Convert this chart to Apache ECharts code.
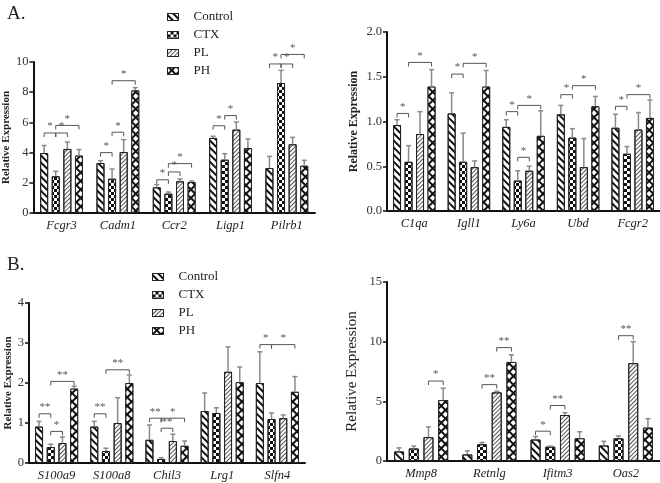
<!DOCTYPE html>
<html>
<head>
<meta charset="utf-8">
<script src="https://cdn.jsdelivr.net/npm/echarts@6/dist/echarts.min.js"></script>
<style>
  html, body { margin: 0; padding: 0; background: #fff; }
  #chart { width: 660px; height: 483px; }
</style>
</head>
<body>
<div id="chart"></div>
<script>
// groups (legend)
const groups = ['Control', 'CTX', 'PL', 'PH'];

// A. left panel
const catsA1 = ['Fcgr3', 'Cadm1', 'Ccr2', 'Ligp1', 'Pilrb1'];
const meanA1 = [
  [3.97, 3.31, 1.70, 4.97, 2.98],
  [2.43, 2.27, 1.28, 3.53, 8.61],
  [4.24, 4.04, 2.10, 5.52, 4.55],
  [3.80, 8.12, 2.05, 4.30, 3.13]
];
const sdA1 = [
  [0.50, 0.15, 0.18, 0.11, 0.77],
  [0.33, 0.64, 0.11, 0.40, 0.84],
  [0.46, 0.82, 0.15, 0.51, 0.46],
  [0.40, 0.18, 0.07, 0.60, 0.36]
];
// [category, from bar, to bar, height, stars]
const sigA1 = [
  [0, 0, 1, 5.3, 1], [0, 1, 2, 5.3, 1], [0, 1, 3, 5.8, 1],
  [1, 0, 1, 4.0, 1], [1, 1, 2, 5.35, 1], [1, 1, 3, 8.76, 1],
  [2, 0, 1, 2.2, 1], [2, 1, 2, 2.72, 1], [2, 1, 3, 3.27, 1],
  [3, 0, 1, 5.78, 1], [3, 1, 2, 6.45, 1],
  [4, 0, 1, 9.87, 1], [4, 1, 2, 9.87, 1], [4, 1, 3, 10.5, 1]
];

// A. right panel
const catsA2 = ['C1qa', 'Igll1', 'Ly6a', 'Ubd', 'Fcgr2'];
const meanA2 = [
  [0.96, 1.09, 0.94, 1.08, 0.93],
  [0.55, 0.55, 0.34, 0.82, 0.64],
  [0.86, 0.49, 0.45, 0.49, 0.91],
  [1.39, 1.39, 0.84, 1.17, 1.04]
];
const sdA2 = [
  [0.06, 0.23, 0.08, 0.10, 0.15],
  [0.18, 0.32, 0.11, 0.10, 0.08],
  [0.25, 0.07, 0.05, 0.32, 0.19],
  [0.19, 0.18, 0.28, 0.11, 0.20]
];
const sigA2 = [
  [0, 0, 1, 1.09, 1], [0, 1, 3, 1.66, 1],
  [1, 0, 1, 1.53, 1], [1, 1, 3, 1.65, 1],
  [2, 0, 1, 1.11, 1], [2, 1, 2, 0.60, 1], [2, 1, 3, 1.18, 1],
  [3, 0, 1, 1.30, 1], [3, 1, 3, 1.40, 1],
  [4, 0, 1, 1.17, 1], [4, 1, 3, 1.30, 1]
];

// B. left panel
const catsB1 = ['S100a9', 'S100a8', 'Chil3', 'Lrg1', 'Slfn4'];
const meanB1 = [
  [0.91, 0.91, 0.58, 1.30, 2.00],
  [0.40, 0.30, 0.10, 1.25, 1.10],
  [0.50, 1.00, 0.55, 2.28, 1.12],
  [1.86, 2.00, 0.43, 2.02, 1.78]
];
const sdB1 = [
  [0.13, 0.13, 0.37, 0.45, 0.78],
  [0.07, 0.07, 0.03, 0.13, 0.15],
  [0.15, 0.63, 0.17, 0.62, 0.08],
  [0.06, 0.20, 0.12, 0.38, 0.38]
];
const sigB1 = [
  [0, 0, 1, 1.23, 2], [0, 1, 2, 0.79, 1], [0, 1, 3, 2.04, 2],
  [1, 0, 1, 1.23, 2], [1, 1, 3, 2.33, 2],
  [2, 0, 1, 1.12, 2], [2, 1, 3, 1.12, 1], [2, 1, 2, 0.87, 2],
  [4, 0, 1, 2.96, 1], [4, 1, 3, 2.96, 1]
];

// B. right panel
const catsB2 = ['Mmp8', 'Retnlg', 'Ifitm3', 'Oas2'];
const meanB2 = [
  [0.80, 0.55, 1.80, 1.30],
  [1.05, 1.40, 1.20, 1.90],
  [2.00, 5.75, 3.85, 8.20],
  [5.10, 8.30, 1.90, 2.80]
];
const sdB2 = [
  [0.30, 0.30, 0.25, 0.35],
  [0.20, 0.15, 0.05, 0.20],
  [0.85, 0.10, 0.20, 1.80],
  [1.00, 0.60, 0.55, 0.75]
];
const sigB2 = [
  [0, 2, 3, 6.7, 1],
  [1, 1, 2, 6.4, 2], [1, 2, 3, 9.5, 2],
  [2, 0, 1, 2.5, 1], [2, 1, 2, 4.65, 2],
  [3, 1, 2, 10.5, 2]
];

const serif = "'Liberation Serif', 'Times New Roman', serif";

// fill patterns per group
const decals = [
  { symbol: 'rect', symbolSize: 1, color: '#111', dashArrayX: [1, 0], dashArrayY: [1.7, 2.7], rotation: Math.PI / 4 },
  { symbol: 'rect', symbolSize: 1, color: '#111', dashArrayX: [[3, 3], [0, 3, 3, 0]], dashArrayY: [3, 0] },
  { symbol: 'rect', symbolSize: 1, color: '#555', dashArrayX: [1, 0], dashArrayY: [0.8, 1.5], rotation: -Math.PI / 4 },
  { symbol: 'rect', symbolSize: 1, color: '#fff', backgroundColor: '#111', dashArrayX: [3.4, 1.4], dashArrayY: [3.4, 1.4], rotation: Math.PI / 4 }
];

const panels = [
  { cats: catsA1, mean: meanA1, sd: sdA1, sig: sigA1, max: 10, interval: 2, digits: 0,
    grid: { left: 33, top: 62, width: 282, height: 151 }, bw: 8, gap: 3.6,
    nameGap: 17, nameSize: 11, nameWeight: 'bold' },
  { cats: catsA2, mean: meanA2, sd: sdA2, sig: sigA2, max: 2, interval: 0.5, digits: 1,
    grid: { left: 387, top: 32, width: 275, height: 179 }, bw: 8, gap: 3.5,
    nameGap: 27, nameSize: 12, nameWeight: 'bold' },
  { cats: catsB1, mean: meanB1, sd: sdB1, sig: sigB1, max: 4, interval: 1, digits: 0,
    grid: { left: 29, top: 303, width: 276, height: 160 }, bw: 8, gap: 3.7,
    nameGap: 15, nameSize: 11, nameWeight: 'bold' },
  { cats: catsB2, mean: meanB2, sd: sdB2, sig: sigB2, max: 15, interval: 5, digits: 0,
    grid: { left: 387, top: 282, width: 276, height: 179 }, bw: 10, gap: 4.7,
    nameGap: 27, nameSize: 15, nameWeight: 'normal' }
];

function errRenderer(p) {
  const step = p.bw + p.gap;
  return function (params, api) {
    const c = api.value(0), g = api.value(1), m = api.value(2), s = api.value(3);
    const base = api.coord([c, m]);
    const top = api.coord([c, m + s]);
    const x = base[0] + (g - 1.5) * step;
    const st = { stroke: '#8a8a8a', lineWidth: 1.5 };
    return {
      type: 'group',
      children: [
        { type: 'line', shape: { x1: x, y1: base[1], x2: x, y2: top[1] }, style: st },
        { type: 'line', shape: { x1: x - 2.5, y1: top[1], x2: x + 2.5, y2: top[1] }, style: st }
      ]
    };
  };
}

function sigRenderer(p) {
  const step = p.bw + p.gap;
  return function (params, api) {
    const c = api.value(0), a = api.value(1), b = api.value(2), h = api.value(3), n = api.value(4);
    const pt = api.coord([c, h]);
    const x1 = pt[0] + (a - 1.5) * step, x2 = pt[0] + (b - 1.5) * step, y = pt[1];
    return {
      type: 'group',
      children: [
        { type: 'polyline', shape: { points: [[x1, y + 4], [x1, y], [x2, y], [x2, y + 4]] },
          style: { stroke: '#555', lineWidth: 1, fill: null } },
        { type: 'text', x: (x1 + x2) / 2, y: y - 1,
          style: { text: '*'.repeat(n), font: '11px ' + serif, fill: '#555', align: 'center', verticalAlign: 'bottom' } }
      ]
    };
  };
}

const grid = [], xAxis = [], yAxis = [], series = [];
panels.forEach(function (p, i) {
  grid.push(p.grid);
  xAxis.push({
    type: 'category', gridIndex: i, data: p.cats,
    axisLine: { lineStyle: { color: '#111', width: 2 } },
    axisTick: { alignWithLabel: true, length: 4, lineStyle: { color: '#111', width: 1.5 } },
    axisLabel: { fontFamily: serif, fontStyle: 'italic', fontSize: 12.5, color: '#222', margin: 6 }
  });
  yAxis.push({
    type: 'value', gridIndex: i, min: 0, max: p.max, interval: p.interval,
    name: 'Relative Expression', nameLocation: 'middle', nameGap: p.nameGap,
    nameTextStyle: { fontFamily: serif, fontSize: p.nameSize, fontWeight: p.nameWeight, color: '#222' },
    axisLine: { show: true, lineStyle: { color: '#111', width: 2 } },
    axisTick: { show: true, length: 4, lineStyle: { color: '#111', width: 1.5 } },
    splitLine: { show: false },
    axisLabel: { fontFamily: serif, fontSize: 12.5, color: '#333', margin: 5,
      formatter: function (v) { return v.toFixed(p.digits); } }
  });
  groups.forEach(function (g, k) {
    series.push({
      type: 'bar', name: g, xAxisIndex: i, yAxisIndex: i, data: p.mean[k],
      barWidth: p.bw, barGap: (p.gap / p.bw * 100) + '%',
      itemStyle: { color: '#fff', borderColor: '#222', borderWidth: 1, decal: decals[k] },
      emphasis: { disabled: true }, animation: false
    });
  });
  const errData = [];
  p.mean.forEach(function (row, k) {
    row.forEach(function (m, c) { errData.push([c, k, m, p.sd[k][c]]); });
  });
  series.push({
    type: 'custom', xAxisIndex: i, yAxisIndex: i, data: errData, z: 3,
    encode: { x: 0, y: 2 }, renderItem: errRenderer(p), silent: true, animation: false
  });
  series.push({
    type: 'custom', xAxisIndex: i, yAxisIndex: i, data: p.sig, z: 3,
    encode: { x: 0, y: 3 }, renderItem: sigRenderer(p), silent: true, animation: false
  });
});

const legendBase = {
  data: groups, orient: 'vertical', itemWidth: 11, itemHeight: 7, itemGap: 4,
  selectedMode: false, icon: 'rect',
  itemStyle: { borderColor: '#222', borderWidth: 1 },
  textStyle: { fontFamily: serif, fontSize: 13, color: '#222', padding: [0, 0, 0, 10], lineHeight: 14 }
};

const chart = echarts.init(document.getElementById('chart'));
chart.setOption({
  animation: false,
  backgroundColor: '#fff',
  title: [
    { text: 'A.', left: 2, top: 0, textStyle: { fontFamily: serif, fontSize: 19, fontWeight: 'normal', color: '#222' } },
    { text: 'B.', left: 2, top: 251, textStyle: { fontFamily: serif, fontSize: 19, fontWeight: 'normal', color: '#222' } }
  ],
  legend: [
    Object.assign({}, legendBase, { left: 162, top: 5 }),
    Object.assign({}, legendBase, { left: 147, top: 265 })
  ],
  grid: grid,
  xAxis: xAxis,
  yAxis: yAxis,
  series: series
});
</script>
</body>
</html>
